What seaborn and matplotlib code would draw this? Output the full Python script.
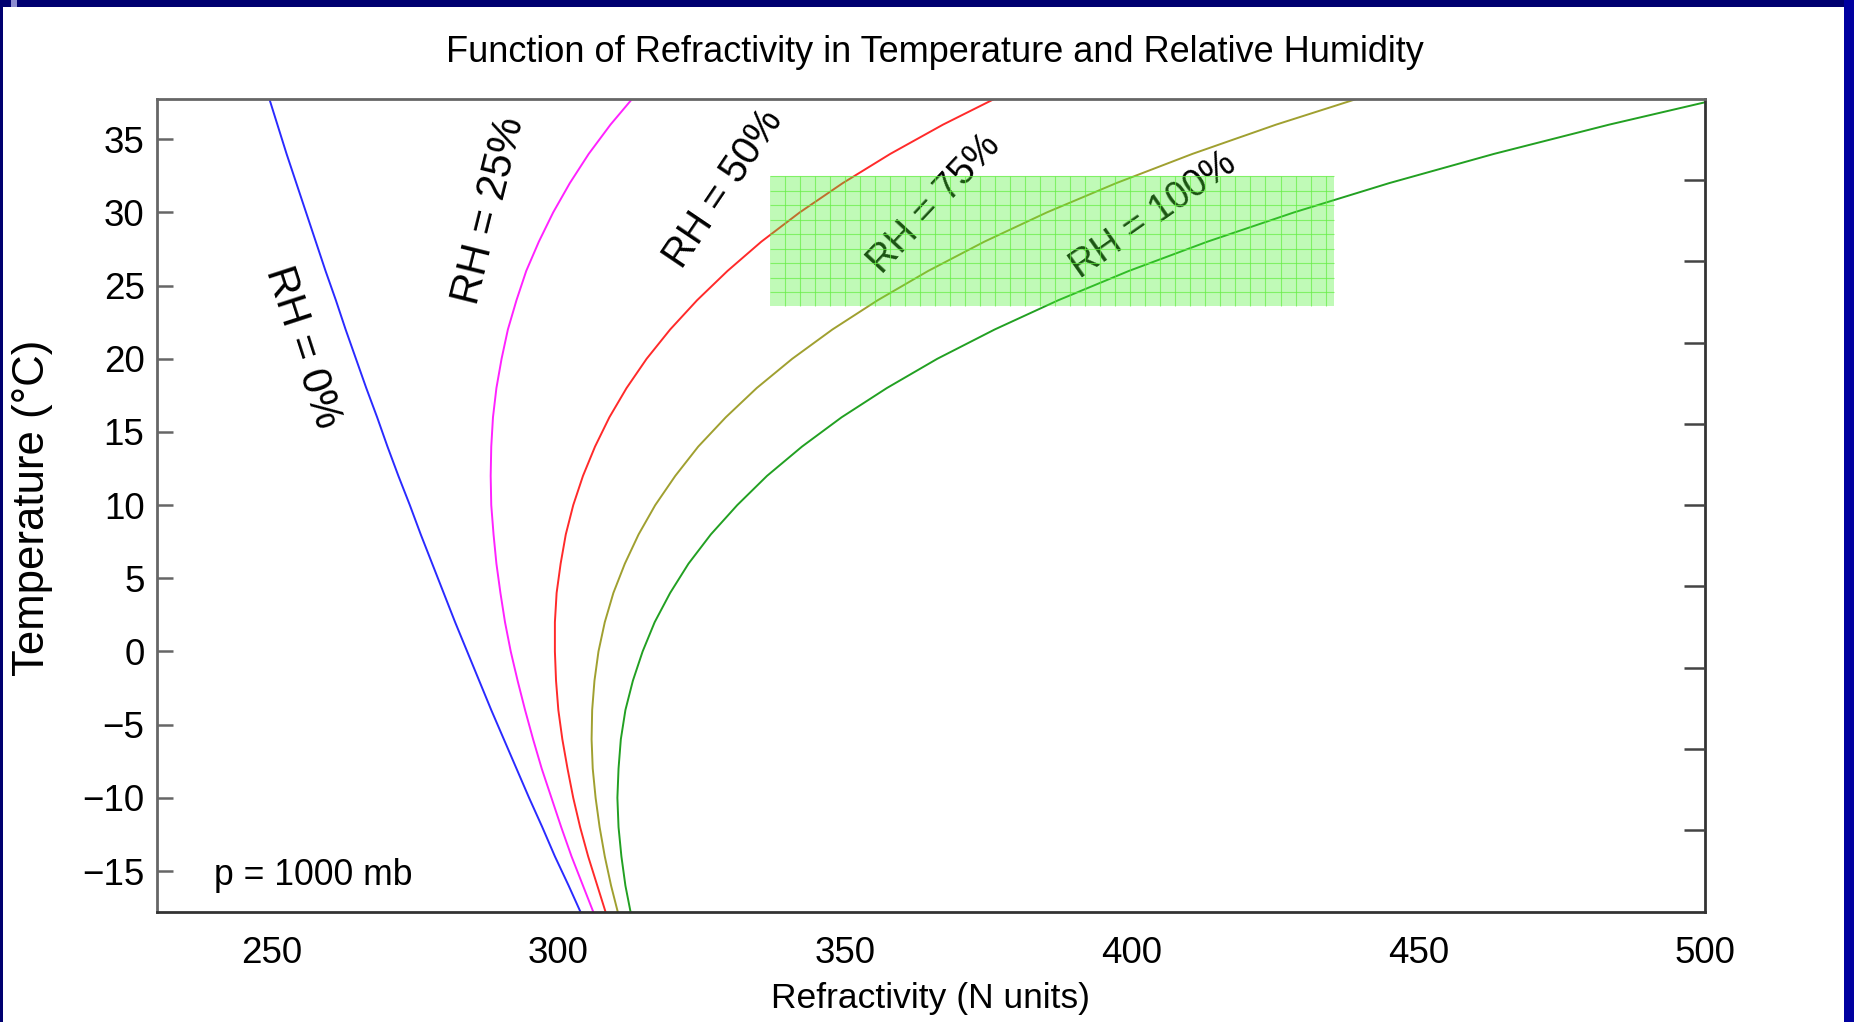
import numpy as np
import pandas as pd
import matplotlib
matplotlib.use("Agg")
import matplotlib.pyplot as plt
import seaborn as sns
from matplotlib.patches import Rectangle

# ---------------- data ----------------
temps_c = [-18, -16, -14, -12, -10, -8, -6, -4, -2, 0, 2, 4, 6, 8, 10, 12, 14,
           16, 18, 20, 22, 24, 26, 28, 30, 32, 34, 36, 38]

n_rh0 = [304.1, 301.8, 299.4, 297.2, 294.9, 292.7, 290.5, 288.3, 286.2, 284.1,
         282.0, 280.0, 278.0, 276.0, 274.1, 272.1, 270.2, 268.4, 266.5, 264.7,
         262.9, 261.2, 259.4, 257.7, 256.0, 254.3, 252.6, 251.0, 249.4]
n_rh25 = [306.3, 304.3, 302.3, 300.5, 298.8, 297.1, 295.6, 294.2, 292.9, 291.7,
          290.7, 289.9, 289.2, 288.7, 288.3, 288.2, 288.3, 288.6, 289.2, 290.1,
          291.2, 292.7, 294.4, 296.6, 299.1, 302.0, 305.3, 309.1, 313.4]
n_rh50 = [308.4, 306.8, 305.2, 303.8, 302.6, 301.6, 300.7, 300.0, 299.6, 299.4,
          299.4, 299.7, 300.4, 301.3, 302.6, 304.3, 306.4, 308.9, 311.9, 315.4,
          319.5, 324.2, 329.5, 335.4, 342.1, 349.6, 357.9, 367.1, 377.3]
n_rh75 = [310.5, 309.2, 308.1, 307.2, 306.5, 306.0, 305.8, 305.9, 306.3, 307.0,
          308.1, 309.6, 311.6, 314.0, 316.9, 320.4, 324.4, 329.2, 334.6, 340.8,
          347.8, 355.7, 364.5, 374.3, 385.2, 397.3, 410.6, 425.2, 441.2]
n_rh100 = [312.7, 311.7, 311.0, 310.5, 310.3, 310.5, 310.9, 311.7, 313.0, 314.7,
           316.8, 319.5, 322.7, 326.6, 331.2, 336.4, 342.5, 349.4, 357.3, 366.1,
           376.1, 387.2, 399.5, 413.2, 428.3, 444.9, 463.2, 483.3, 505.2]

rh_names = ["RH = 0%", "RH = 25%", "RH = 50%", "RH = 75%", "RH = 100%"]
rh_colors = ["#2a2aff", "#ff22ff", "#ff2a2a", "#a0a030", "#22a022"]
# label anchor positions (data coords), rotations and sizes
label_x = [255.3, 288.0, 328.9, 365.7, 403.8]
label_y = [20.8, 30.1, 31.6, 30.6, 29.8]
label_rot = [-72, 76, 56, 47, 35]
label_size = [30, 30, 28.5, 27.5, 27]

x_ticks = [250, 300, 350, 400, 450, 500]
y_ticks = [-15, -10, -5, 0, 5, 10, 15, 20, 25, 30, 35]
f_ticks = [10, 20, 30, 40, 50, 60, 70, 80, 90]

title = "Function of Refractivity in Temperature and Relative Humidity"
xlabel = "Refractivity (N units)"
ylabel = "Temperature (°C)"
note = "p = 1000 mb"

# highlighted band (data coords)
band_x = (336.9, 435.3)
band_y = (23.6, 32.5)

# ---------------- build figure ----------------
sns.set_theme(style="white")
plt.rcParams['font.family'] = ['Liberation Sans', 'DejaVu Sans']
plt.rcParams['axes.unicode_minus'] = True
plt.rcParams['text.color'] = 'black'

W, H = 1854, 1022
fig = plt.figure(figsize=(W / 100, H / 100), dpi=100)
fig.patch.set_facecolor("white")

ax_l, ax_r, ax_t, ax_b = 157, 1705, 99, 912
ax = fig.add_axes([ax_l / W, 1 - ax_b / H, (ax_r - ax_l) / W, (ax_b - ax_t) / H])
ax.set_facecolor("white")

rows = []
for name, vals in zip(rh_names, [n_rh0, n_rh25, n_rh50, n_rh75, n_rh100]):
    for t, n in zip(temps_c, vals):
        rows.append({"RH": name, "T": t, "N": n})
df = pd.DataFrame(rows)

sns.lineplot(data=df, x="N", y="T", hue="RH", hue_order=rh_names,
             palette=dict(zip(rh_names, rh_colors)), sort=False,
             estimator=None, legend=False, ax=ax, linewidth=1.4)

ax.set_xlim(230, 500)
ax.set_ylim(-17.8, 37.75)
ax.set_xticks(x_ticks)
ax.set_yticks(y_ticks)
ax.set_xticklabels([str(v) for v in x_ticks])
ax.set_yticklabels([str(v).replace("-", "\u2212") for v in y_ticks])
ax.set_xlabel("")
ax.set_ylabel("")
ax.tick_params(axis="x", direction="in", length=16.5, width=1.3, pad=17,
               labelsize=26.5, colors="#222222", labelcolor="black")
ax.tick_params(axis="y", direction="in", length=11.5, width=1.8, pad=9,
               labelsize=26.5, colors="#666666", labelcolor="black")
for side, sp in ax.spines.items():
    sp.set_visible(True)
    sp.set_linewidth(2.0)
    sp.set_color("#333333")
ax.spines["top"].set_color("#666666")
ax.spines["left"].set_color("#666666")

# secondary (Fahrenheit) axis: ticks only
ax2 = ax.twinx()
lo, hi = ax.get_ylim()
ax2.set_ylim(lo * 9 / 5 + 32, hi * 9 / 5 + 32)
ax2.set_yticks(f_ticks)
ax2.set_yticklabels([])
ax2.tick_params(axis="y", direction="in", length=15, width=1.8, colors="#444444")
ax2.grid(False)
for sp in ax2.spines.values():
    sp.set_visible(False)

# curve labels
for txt, lx, ly, rot, fs in zip(rh_names, label_x, label_y, label_rot, label_size):
    ax.text(lx, ly, txt, rotation=rot, ha="center", va="center",
            fontsize=fs, color="black", zorder=3)
ax.text(240, -15.3, note, ha="left", va="center", fontsize=25.6, color="black")

# translucent green highlight band with fine grid
ax.add_patch(Rectangle((band_x[0], band_y[0]), band_x[1] - band_x[0],
                       band_y[1] - band_y[0], facecolor=(0.3, 0.95, 0.2),
                       alpha=0.35, edgecolor="none", zorder=10))
gx = np.arange(band_x[0] + 2.6, band_x[1], 2.62)
gy = np.arange(band_y[0] + 0.95, band_y[1], 0.99)
ax.vlines(gx, band_y[0], band_y[1], colors="#66ee44", linewidth=0.8,
          alpha=0.7, zorder=11)
ax.hlines(gy, band_x[0], band_x[1], colors="#66ee44", linewidth=0.8,
          alpha=0.7, zorder=11)

# titles / axis labels
fig.text(935 / W, 1 - 52 / H, title, ha="center", va="center", fontsize=26)
fig.text(930 / W, 1 - 982 / H, xlabel, ha="center", va="top", fontsize=25.5)
fig.text(33 / W, 1 - 508 / H, ylabel, ha="center", va="center",
         rotation=90, fontsize=31.5)

# slide frame
fig.patches.append(Rectangle((0, 1 - 7 / H), 1, 7 / H, transform=fig.transFigure,
                             facecolor="#000070", edgecolor="none", zorder=20))
fig.patches.append(Rectangle((11 / W, 1 - 7 / H), 6 / W, 7 / H,
                             transform=fig.transFigure, facecolor="#8c8cd0",
                             edgecolor="none", zorder=21))
fig.patches.append(Rectangle((0, 0), 3 / W, 1, transform=fig.transFigure,
                             facecolor="#000070", edgecolor="none", zorder=20))
fig.patches.append(Rectangle((1844 / W, 0), 10 / W, 1, transform=fig.transFigure,
                             facecolor="#0000a0", edgecolor="none", zorder=20))

fig.savefig("out.png", dpi=100, facecolor="white")
